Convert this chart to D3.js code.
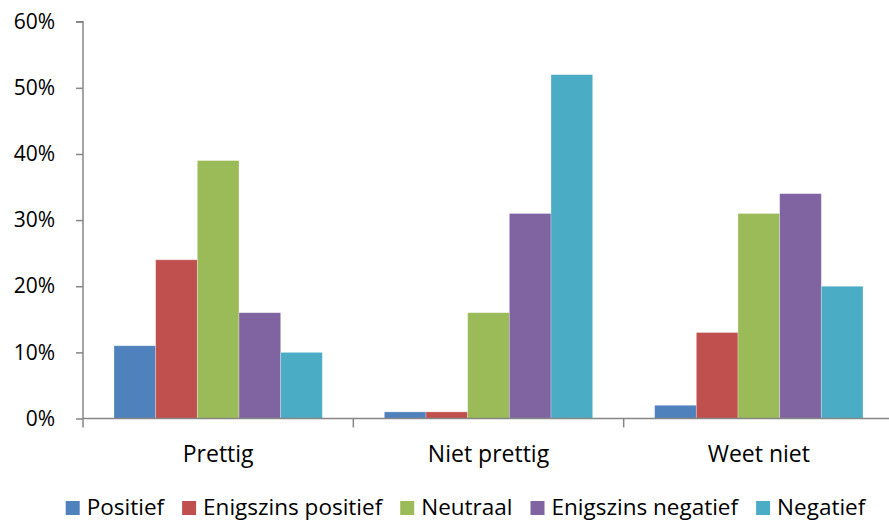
<!DOCTYPE html>
<html><head><meta charset="utf-8">
<script src="https://cdn.jsdelivr.net/npm/d3@7"></script>
<style>body{margin:0;background:#fff}svg{display:block}text{font-family:"Open Sans",Lato,sans-serif;fill:#000}</style>
</head><body><svg id="c" width="889" height="523"></svg>
<script>
const categories = ["Prettig", "Niet prettig", "Weet niet"];
const seriesNames = ["Positief", "Enigszins positief", "Neutraal", "Enigszins negatief", "Negatief"];
const positief = [11, 1, 2];
const enigszinsPositief = [24, 1, 13];
const neutraal = [39, 16, 31];
const enigszinsNegatief = [16, 31, 34];
const negatief = [10, 52, 20];
const colors = ["#4F81BD", "#C0504D", "#9BBB59", "#8064A2", "#4BACC6"];
const yTicks = [0, 10, 20, 30, 40, 50, 60];

const seriesValues = [positief, enigszinsPositief, neutraal, enigszinsNegatief, negatief];
const svg = d3.select("#c");
const x0 = d3.scaleBand().domain(categories).range([83, 894]).paddingInner(0).paddingOuter(0);
const x1 = d3.scaleBand().domain(seriesNames).range([31, x0.bandwidth() - 31]).padding(0);
const y = d3.scaleLinear().domain([0, 60]).range([418.5, 21.7]);

// bars
seriesNames.forEach((s, si) => {
  svg.append("g").selectAll("rect").data(categories).join("rect")
    .attr("x", (c) => x0(c) + x1(s))
    .attr("width", x1.bandwidth())
    .attr("y", (c, ci) => y(seriesValues[si][ci]))
    .attr("height", (c, ci) => y(0) - y(seriesValues[si][ci]))
    .attr("fill", colors[si])
    .attr("stroke", "rgba(255,255,255,0.35)")
    .attr("stroke-width", 0.8);
});

// y axis
const ya = svg.append("g").attr("transform", "translate(83,0)")
  .call(d3.axisLeft(y).tickValues(yTicks).tickFormat(d => d + "%").tickSize(7).tickPadding(21));
ya.select(".domain").attr("stroke", "#868686").attr("stroke-width", 1.5).attr("d", `M-7,${y(60)}H0V${y(0)}`);
ya.selectAll(".tick line").attr("stroke", "#868686").attr("stroke-width", 1.5);
ya.selectAll(".tick text").style("font-size", "21px").attr("fill", "#000");

// x axis
const xa = svg.append("g").attr("transform", `translate(0,${y(0)})`);
xa.append("line").attr("x1", 83).attr("x2", 889).attr("y1", 0).attr("y2", 0).attr("stroke", "#868686").attr("stroke-width", 1.5);
const edges = categories.map(c => x0(c)).concat([x0.range()[1]]);
xa.selectAll("line.t").data(edges).join("line").attr("class", "t")
  .attr("x1", d => d).attr("x2", d => d).attr("y1", 0).attr("y2", 9)
  .attr("stroke", "#868686").attr("stroke-width", 1.5);
xa.selectAll("text").data(categories).join("text")
  .attr("x", c => x0(c) + x0.bandwidth() / 2).attr("y", 43)
  .attr("text-anchor", "middle").style("font-size", "23px").text(c => c);

// legend
const lg = svg.append("g");
const items = lg.selectAll("g").data(seriesNames).join("g");
items.append("rect").attr("width", 14).attr("height", 14).attr("y", 501).attr("fill", (d, i) => colors[i]);
items.append("text").attr("x", 21).attr("y", 515).style("font-size", "22.5px").text(d => d);
let xs = 0; const pos = [];
items.each(function () {
  const w = this.querySelector("text").getComputedTextLength();
  pos.push(xs); xs += 21 + w + 18;
});
const totalW = xs - 18;
const start = 465.5 - totalW / 2;
items.attr("transform", (d, i) => `translate(${start + pos[i]},0)`);
</script></body></html>
